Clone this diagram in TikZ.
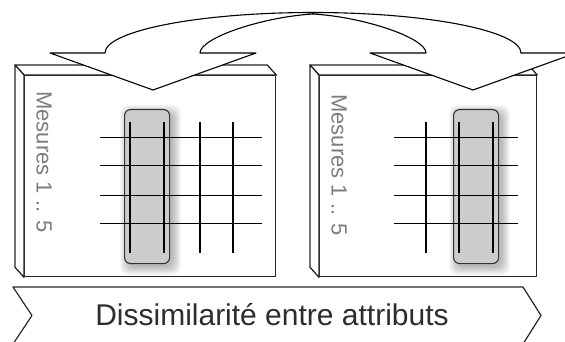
\documentclass[tikz,border=0pt]{standalone}
\usepackage{fontspec}
\setmainfont{Liberation Sans}
\usepackage{xcolor}
\usepackage{tikz}
\usetikzlibrary{positioning}
\definecolor{selgray}{RGB}{204,204,204}
\definecolor{labgray}{RGB}{125,125,125}
\definecolor{txtgray}{RGB}{45,45,45}

\begin{document}
\begin{tikzpicture}[x=1pt,y=-1pt,line join=round,
		face/.style={draw=black!85,line width=1.3pt,fill=white},
		sel/.style={draw=black!80,line width=1.1pt,fill=selgray,rounded corners=6pt,inner sep=0pt,anchor=north west,minimum width=45pt,minimum height=154pt},
		gridline/.style={black,line width=1.2pt},
		measure/.style={text=labgray,rotate=-90,font=\fontsize{22}{26}\selectfont},
		curvearrow/.style={draw=black,line width=1.1pt,fill=white}]
	\useasboundingbox (0,0) rectangle (565,342);
	\node[face,anchor=north west,inner sep=0pt,minimum width=251pt,minimum height=201pt] (boxL) at (24,75) {};
	\node[face,anchor=north west,inner sep=0pt,minimum width=217pt,minimum height=201pt] (boxR) at (319,75) {};
	\foreach \b in {boxL,boxR} {
		\draw[face] (\b.north west) -- ++(-9,-10) -- ([shift={(-9,-10)}]\b.north east) -- (\b.north east) -- cycle;
		\draw[face] (\b.north west) -- ++(-9,-10) -- ([shift={(-9,-10)}]\b.south west) -- (\b.south west) -- cycle;
	}
	\foreach \sx in {124,453}
		\foreach \r in {0,...,8}
			\fill[black,opacity=0.03,rounded corners=8pt] (\sx+4-\r,113-\r) rectangle (\sx+49+\r,267+\r);
	\node[sel] (selL) at (124,109) {};
	\node[sel] (selR) at (453,109) {};
	\foreach \y in {137.5,165.5,195.5,223.5} {
		\draw[gridline] (100,\y) -- (262,\y);
		\draw[gridline] (394,\y) -- (518,\y);
	}
	\foreach \x in {130,164,200,233,426,459,493}
		\draw[gridline] (\x,122) -- (\x,253);
	\node[measure] (mesL) at (44,162) {Mesures 1 .. 5};
	\node[measure] (mesR) at (339,165) {Mesures 1 .. 5};
	\coordinate (peak) at (313,12.5);
	\coordinate (peakin) at (313,14);
	\draw[curvearrow] (50,53) -- (105,53) .. controls (105,31) and (198,12.5) .. (peak) -- (peakin) .. controls (262,17) and (200,38) .. (200,53) -- (256,53) -- (153,90) -- cycle;
	\draw[curvearrow] (576,53) -- (521,53) .. controls (521,31) and (428,12.5) .. (peak) -- (peakin) .. controls (364,17) and (426,38) .. (426,53) -- (370,53) -- (473,90) -- cycle;
	\draw[face,line width=1.2pt] (13,287) -- (523,287) -- (541,315.5) -- (523,344) -- (13,344) -- (32,315.5) -- cycle;
	\node[text=txtgray,font=\fontsize{30}{36}\selectfont,anchor=base] (title) at (272,325) {Dissimilarité entre attributs};
\end{tikzpicture}
\end{document}
